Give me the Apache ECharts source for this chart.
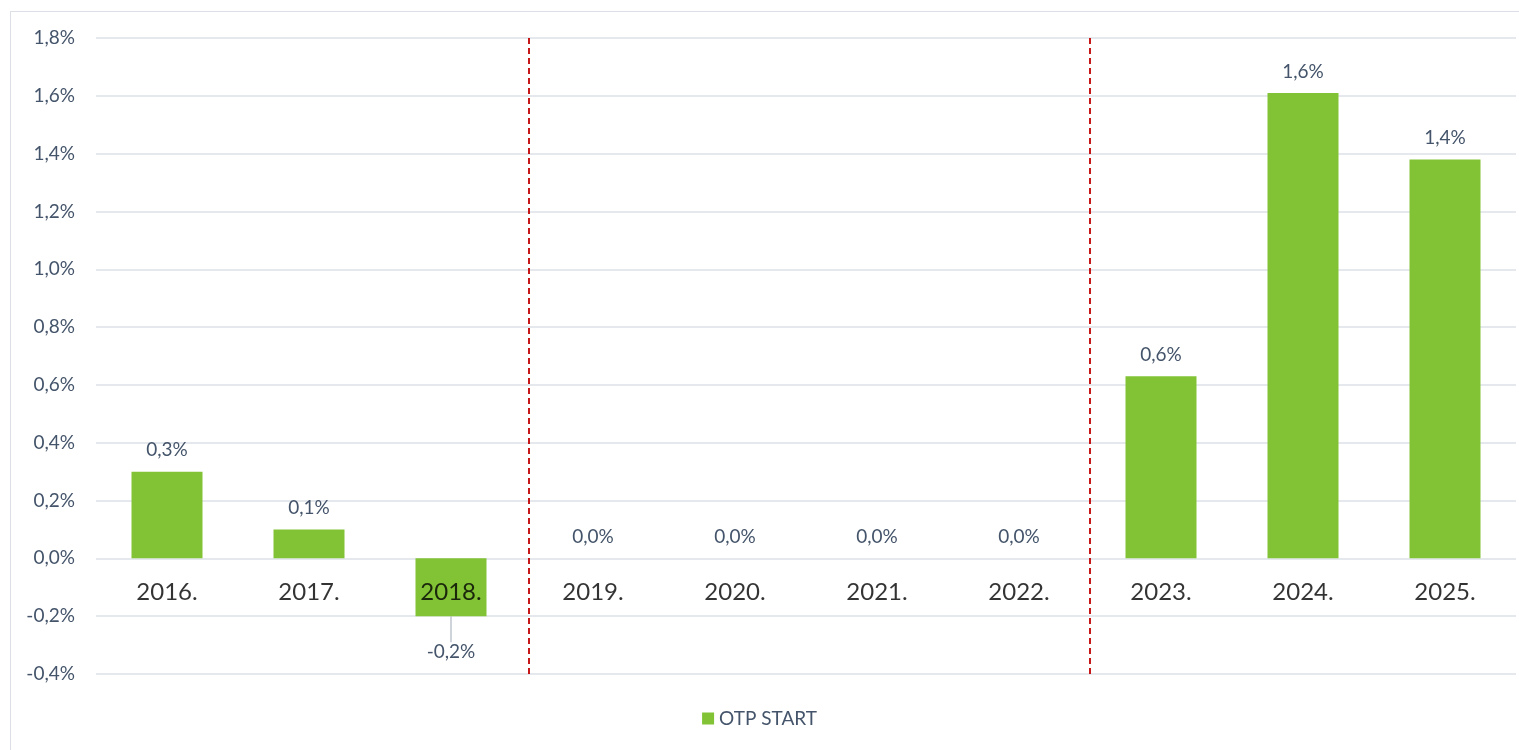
<!DOCTYPE html>
<html>
<head>
<meta charset="utf-8">
<script src="https://cdn.jsdelivr.net/npm/echarts@6/dist/echarts.min.js"></script>
<style>
html,body{margin:0;padding:0;background:#fff;overflow:hidden;}
#frame{position:absolute;left:10px;top:11px;width:1530px;height:760px;border:1.5px solid #DCE0E6;box-sizing:border-box;}
#chart{position:absolute;left:0;top:0;width:1519px;height:750px;}
</style>
</head>
<body>
<div id="frame"></div>
<div id="chart"></div>
<script>
const categories = ['2016.', '2017.', '2018.', '2019.', '2020.', '2021.', '2022.', '2023.', '2024.', '2025.'];
const values = [0.30, 0.10, -0.20, 0.0, 0.0, 0.0, 0.0, 0.63, 1.61, 1.38];
const seriesName = 'OTP START';
const dividerPositions = [2.55, 6.5];
const yTicks = { min: -0.4, max: 1.8, interval: 0.2 };

const fmt = v => v.toFixed(1).replace('.', ',') + '%';
const labelColor = '#44546A';
const font = 'Lato, "Open Sans", sans-serif';

const chart = echarts.init(document.getElementById('chart'));
chart.setOption({
  animation: false,
  grid: { left: 96, right: 3, top: 38, bottom: 76, containLabel: false },
  legend: {
    bottom: 17, left: 'center',
    itemWidth: 12, itemHeight: 12, itemGap: 6,
    icon: 'rect',
    textStyle: { color: labelColor, fontSize: 19, fontFamily: font },
    data: [seriesName]
  },
  xAxis: [{
    type: 'category',
    data: categories,
    axisLine: { show: false },
    axisTick: { show: false },
    axisLabel: { show: false }
  }, {
    type: 'value', min: -0.5, max: 9.5, show: false
  }],
  yAxis: {
    type: 'value', min: yTicks.min, max: yTicks.max, interval: yTicks.interval,
    axisLine: { show: false }, axisTick: { show: false },
    axisLabel: { color: labelColor, fontSize: 19, fontFamily: font, margin: 21, formatter: v => fmt(v) },
    splitLine: { lineStyle: { color: '#DCE0E6', width: 1.5 } }
  },
  series: [{
    name: seriesName,
    type: 'bar',
    barWidth: '50%',
    itemStyle: { color: '#82C336' },
    data: values.map(v => ({
      value: v,
      label: v < 0 ? { position: 'bottom', distance: 5 } : { position: 'top', distance: 12 },
      labelLine: { show: v < 0 }
    })),
    label: {
      show: true, color: labelColor, fontSize: 19, fontFamily: font,
      formatter: p => fmt(p.value)
    },
    labelLayout: p => (values[p.dataIndex] < 0 ? { dy: 21 } : {}),
    labelLine: { show: false, lineStyle: { color: '#BFC5CE', width: 1.5 }, length2: 0 }
  }, {
    name: 'categoryLabels',
    type: 'scatter',
    silent: true,
    symbolSize: 1,
    itemStyle: { color: 'rgba(0,0,0,0)' },
    data: categories.map(c => [c, 0]),
    label: {
      show: true, position: 'bottom', distance: 21,
      color: '#000', fontSize: 24, fontFamily: font,
      formatter: p => p.data[0]
    },
    z: 10
  }, {
    type: 'line',
    xAxisIndex: 1,
    data: [],
    markLine: {
      silent: true,
      symbol: ['none', 'none'],
      label: { show: false },
      lineStyle: { color: '#C00000', type: [6, 4], width: 1.8 },
      data: dividerPositions.map(x => ({ xAxis: x }))
    }
  }]
});
</script>
</body>
</html>
